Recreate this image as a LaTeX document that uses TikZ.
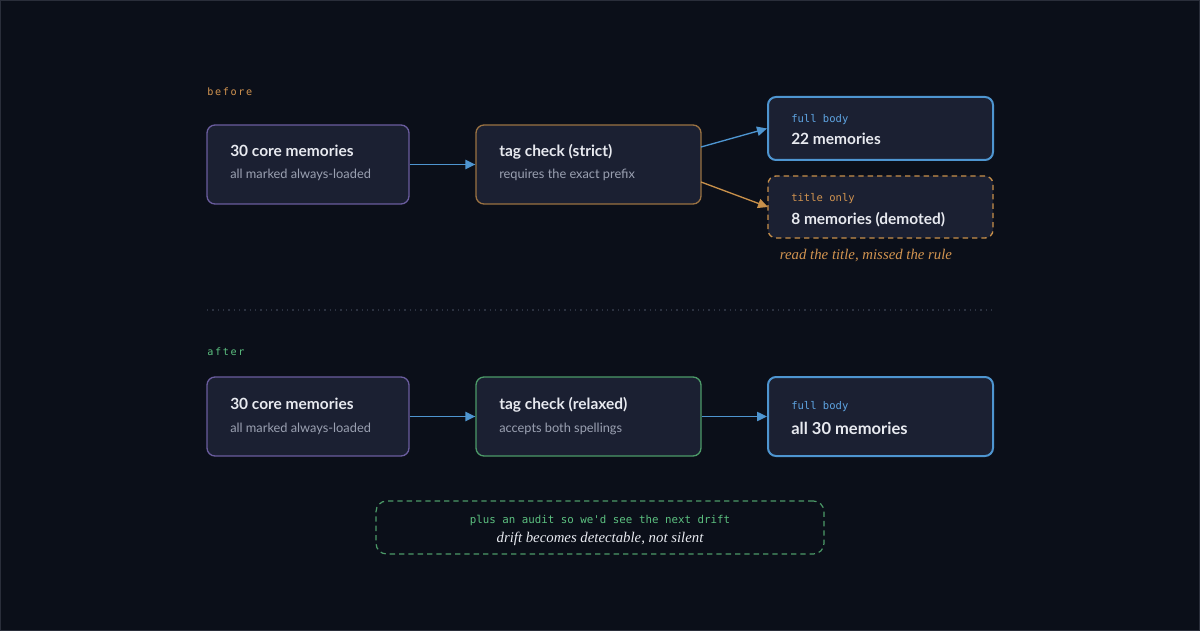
\documentclass[tikz,border=0pt]{standalone}
\usepackage{fontspec}
\setmainfont{Lato}
\setmonofont{DejaVu Sans Mono}
\newfontfamily\serifit{Liberation Serif}
\usetikzlibrary{arrows.meta}
\definecolor{bg}{HTML}{0B0F19}
\definecolor{boxfill}{HTML}{1B2032}
\definecolor{frame}{HTML}{2A2E3A}
\definecolor{cpurple}{HTML}{6A5C9E}
\definecolor{cbrown}{HTML}{9A7242}
\definecolor{cblue}{HTML}{4E95D0}
\definecolor{corange}{HTML}{C8904A}
\definecolor{cgreen}{HTML}{4C9A68}
\definecolor{tmain}{HTML}{E8EAF0}
\definecolor{tsub}{HTML}{9BA1B2}
\definecolor{lblue}{HTML}{5EA4E2}
\definecolor{lorange}{HTML}{D29450}
\definecolor{lgreen}{HTML}{5CC080}
\definecolor{divc}{HTML}{2C3240}
\tikzset{
  box/.style={draw, fill=boxfill, rounded corners=6pt, line width=1pt, inner sep=0pt},
  title/.style={anchor=base west, text=tmain, font=\fontsize{11.6}{13}\selectfont\bfseries, inner sep=0pt},
  sub/.style={anchor=base west, text=tsub, font=\fontsize{9.6}{12}\selectfont, inner sep=0pt},
  tag/.style={anchor=base west, font=\ttfamily\fontsize{7.9}{9}\selectfont, inner sep=0pt},
  sect/.style={anchor=base west, font=\ttfamily\fontsize{7.6}{9}\selectfont, inner sep=0pt},
  note/.style={font=\serifit\itshape\fontsize{11.1}{13}\selectfont, inner sep=0pt},
  conn/.style={line width=1pt, -{Triangle[length=7.5pt,width=7pt]}},
}
\begin{document}
\begin{tikzpicture}[x=0.75pt,y=-0.75pt]
\fill[bg] (0,0) rectangle (1200,631);
\draw[frame, line width=0.75pt] (0.5,0.5) rectangle (1199.5,630.5);
\useasboundingbox (0,0) rectangle (1200,631);

% before
\node[sect, text=lorange] (lbefore) at (207,96) {b\,e\,f\,o\,r\,e};
\node[box, draw=cpurple, minimum width=202*0.75pt, minimum height=79*0.75pt] (a1) at (308,164.5) {};
\node[title] (a1t) at (230,157) {30 core memories};
\node[sub] (a1s) at (230,179) {all marked always-loaded};
\node[box, draw=cbrown, minimum width=225*0.75pt, minimum height=79*0.75pt] (b1) at (588.5,164.5) {};
\node[title] (b1t) at (499,157) {tag check (strict)};
\node[sub] (b1s) at (499,179) {requires the exact prefix};
\node[box, draw=cblue, line width=1.5pt, minimum width=225*0.75pt, minimum height=63*0.75pt] (c1) at (880.5,128.5) {};
\node[tag, text=lblue] (c1l) at (791,123) {full body};
\node[title] (c1t) at (791,145) {22 memories};
\node[box, draw=corange, dashed, dash pattern=on 4pt off 3pt, minimum width=225*0.75pt, minimum height=62*0.75pt] (d1) at (880.5,207) {};
\node[tag, text=lorange] (d1l) at (791,202) {title only};
\node[title] (d1t) at (791,224) {8 memories (demoted)};
\node[note, text=lorange] (d1n) at (866,256) {read the title, missed the rule};

\coordinate (b1o1) at (701,147);
\coordinate (b1o2) at (701,182);
\coordinate (d1in) at (768,207);
\draw[conn, cblue] (a1.east) -- (b1.west);
\draw[conn, cblue] (b1o1) -- (c1.west);
\draw[conn, corange] (b1o2) -- (d1in);

% divider
\coordinate (dv1) at (207,310);
\coordinate (dv2) at (993,310);
\draw[divc, line width=1pt, dash pattern=on 1pt off 3pt] (dv1) -- (dv2);

% after
\node[sect, text=lgreen] (lafter) at (207,355) {a\,f\,t\,e\,r};
\node[box, draw=cpurple, minimum width=202*0.75pt, minimum height=79*0.75pt] (a2) at (308,416.5) {};
\node[title] (a2t) at (230,409) {30 core memories};
\node[sub] (a2s) at (230,432) {all marked always-loaded};
\node[box, draw=cgreen, minimum width=225*0.75pt, minimum height=79*0.75pt] (b2) at (588.5,416.5) {};
\node[title] (b2t) at (499,409) {tag check (relaxed)};
\node[sub] (b2s) at (499,432) {accepts both spellings};
\node[box, draw=cblue, line width=1.5pt, minimum width=225*0.75pt, minimum height=79*0.75pt] (c2) at (880.5,416.5) {};
\node[tag, text=lblue] (c2l) at (791,409) {full body};
\node[title, font=\fontsize{12.4}{14}\selectfont\bfseries] (c2t) at (791,434) {all 30 memories};
\draw[conn, cblue] (a2.east) -- (b2.west);
\draw[conn, cblue] (b2.east) -- (c2.west);

% audit box
\node[draw=cgreen, dashed, dash pattern=on 4pt off 3pt, line width=0.9pt, rounded corners=8pt, minimum width=448*0.75pt, minimum height=53*0.75pt] (e) at (600,527.5) {};
\node[font=\ttfamily\fontsize{8.1}{9}\selectfont, text=lgreen, inner sep=0pt] (el) at (600,520) {plus an audit so we'd see the next drift};
\node[note, text=tmain] (en) at (600,539) {drift becomes detectable, not silent};
\end{tikzpicture}
\end{document}
